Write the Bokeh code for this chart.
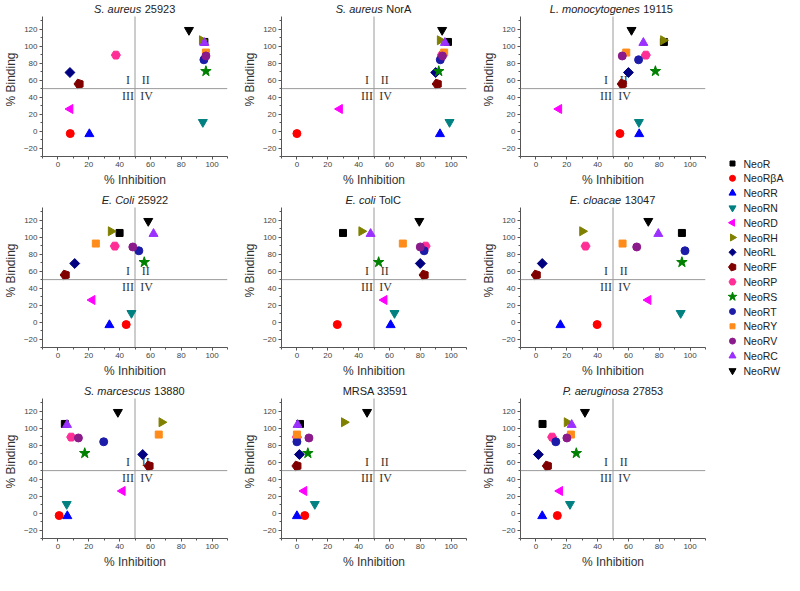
import math
from bokeh.plotting import figure
from bokeh.layouts import row, column
from bokeh.models import Range1d, Span, SingleIntervalTicker, ColumnDataSource
from bokeh.core.properties import value
from bokeh.embed import file_html
from bokeh.resources import INLINE

# ---------------- data ----------------
compounds = ["NeoR", "NeoRβA", "NeoRR", "NeoRN", "NeoRD", "NeoRH", "NeoRL", "NeoRF",
             "NeoRP", "NeoRS", "NeoRT", "NeoRY", "NeoRV", "NeoRC", "NeoRW"]
binding = [105, -3, -3.5, 10.5, 26, 107, 69, 55.5, 89.5, 70.5, 84, 92.5, 88.5, 104, 119]

inh_sa25923 = [95, 8, 20.4, 94, 8, 93.5, 7.8, 13.7, 37.6, 96, 94.7, 96, 96, 95, 85]
inh_sanora = [98, 0, 92.8, 99, 27.8, 92.8, 90, 91, 94, 92, 93, 95.5, 94.4, 96, 94.2]
inh_lm19115 = [83, 54.5, 67, 66.8, 15, 82.6, 60, 56, 71.3, 77.5, 66.6, 58.6, 56, 69.7, 62]
inh_ec25922 = [40, 44.3, 33.4, 47.7, 22.3, 34.4, 10.9, 4.7, 36.9, 56, 52.5, 24.6, 48.6, 62, 58.6]
inh_ectolc = [29.9, 26.2, 60.8, 63.3, 56.7, 41.9, 80, 82.5, 83.5, 53, 82.5, 68.7, 80, 47.8, 79.4]
inh_ecl13047 = [94.7, 39.7, 15.9, 93.9, 72.9, 30.1, 4.1, 0.2, 32.2, 94.7, 96.7, 56.2, 65.4, 79.4, 72.9]
inh_sm13880 = [4.5, 0.8, 6.1, 5.7, 41.9, 67.3, 55, 59.1, 8.6, 17.4, 29.7, 65.4, 13.3, 5.9, 38.9]
inh_mrsa33591 = [2, 5.1, 0, 11.6, 4.7, 30.6, 1.6, 0, 0, 7.1, 0, 0, 7.8, 0.4, 45.5]
inh_pa27853 = [4.3, 13.9, 4.1, 22.1, 15.6, 20.1, 1.6, 7.4, 10.5, 26.2, 12.9, 22.7, 20.1, 23.2, 31.8]

title_italic = ["S. aureus", "S. aureus", "L. monocytogenes",
                "E. Coli", "E. coli", "E. cloacae",
                "S. marcescus", "", "P. aeruginosa"]
title_plain = ["25923", "NorA", "19115", "25922", "TolC", "13047", "13880", "MRSA 33591", "27853"]
panels = [inh_sa25923, inh_sanora, inh_lm19115, inh_ec25922, inh_ectolc, inh_ecl13047,
          inh_sm13880, inh_mrsa33591, inh_pa27853]

quad_text = ["I", "II", "III", "IV"]
threshold = 50

# ---------------- styles ----------------
# (marker, colour, size, angle)
styles = [
    ("square", "#000000", 7, 0),
    ("circle", "#ff0000", 8, 0),
    ("triangle", "#0000ff", 9, 0),
    ("inverted_triangle", "#008080", 9, 0),
    ("triangle", "#ff00ff", 9, math.pi / 2),
    ("triangle", "#808000", 9, -math.pi / 2),
    ("square", "#000080", 7, math.pi / 4),
    ("pentagon", "#800000", 5, 0),
    ("hex", "#ff2d96", 9, 0),
    ("star", "#008000", 11, 0),
    ("circle", "#1c1ca8", 8, 0),
    ("square", "#ff8c1a", 7, 0),
    ("circle", "#8b1a8b", 8, 0),
    ("triangle", "#9b30ff", 9, 0),
    ("inverted_triangle", "#000000", 9, 0),
]

FONT = "Liberation Sans"
HELV = {' ': 278, '.': 278, 'A': 667, 'C': 722, 'E': 667, 'L': 556, 'M': 833, 'N': 722,
        'P': 667, 'R': 722, 'S': 667, 'T': 611, 'a': 556, 'c': 500, 'e': 556, 'g': 556,
        'i': 222, 'l': 222, 'm': 833, 'n': 556, 'o': 556, 'r': 333, 's': 500, 't': 278,
        'u': 556, 'y': 500}


def text_w(s, size):
    return sum(HELV.get(ch, 556) for ch in s) * size / 1000.0


PW, PH = 239, 191
BL, BR, BT, BB = 34, 12, 2, 35
XR = (-10, 110)
AX_Y = (-30, 135)            # visible axis extent
AXIS_PX = 140                # pixel height of the axis extent
FRAME_H = PH - BT - BB
UPP = (AX_Y[1] - AX_Y[0]) / AXIS_PX
YTOP = AX_Y[0] + FRAME_H * UPP


def draw_marker(p, src, m, c, s, a):
    if m == "pentagon":
        try:
            p.ngon(x="x", y="y", source=src, radius=s, radius_units="screen", n=5,
                   angle=math.pi / 2, fill_color=c, line_color=c)
            return
        except Exception:
            m, s = "hex", 9
    p.scatter(x="x", y="y", source=src, marker=m, size=s, angle=a,
              fill_color=c, line_color=c)


def make_panel(k):
    p = figure(width=PW, height=PH, x_range=Range1d(*XR), y_range=Range1d(AX_Y[0], YTOP),
               output_backend="svg", toolbar_location=None,
               min_border_left=BL, min_border_right=BR, min_border_top=BT,
               min_border_bottom=BB, x_axis_label="% Inhibition", y_axis_label="% Binding")
    p.outline_line_color = None
    p.grid.visible = False
    p.background_fill_color = "white"
    p.border_fill_color = "white"
    p.yaxis[0].bounds = AX_Y
    for ax in (p.xaxis[0], p.yaxis[0]):
        ax.ticker = SingleIntervalTicker(interval=20, num_minor_ticks=2)
        ax.axis_line_color = "#555555"
        ax.major_tick_line_color = "#555555"
        ax.minor_tick_line_color = "#555555"
        ax.major_tick_in = 0
        ax.major_tick_out = 3
        ax.minor_tick_in = 0
        ax.minor_tick_out = 2
        ax.major_label_text_font = FONT
        ax.major_label_text_font_size = "8px"
        ax.major_label_text_color = "#444444"
        ax.axis_label_text_font = FONT
        ax.axis_label_text_font_size = "12px"
        ax.axis_label_text_font_style = "normal"
        ax.axis_label_text_color = "#333333"
        ax.major_label_standoff = 2
        ax.axis_label_standoff = 3

    p.segment(x0=[threshold], y0=[AX_Y[0]], x1=[threshold], y1=[AX_Y[1]],
              line_color="#9a9a9a", line_width=1)
    p.add_layout(Span(location=threshold, dimension="width", line_color="#9a9a9a", line_width=1))

    p.text(x=[45.5, 57, 45.5, 57.5], y=[60, 60, 41, 41], text=quad_text,
           text_font=value("Liberation Serif"), text_font_size="12px",
           text_align="center", text_baseline="middle", text_color="#333333")

    inh = panels[k]
    for i in range(len(compounds)):
        m, c, s, a = styles[i]
        src = ColumnDataSource(dict(x=[inh[i]], y=[binding[i]]))
        draw_marker(p, src, m, c, s, a)

    # title: italic species + plain strain, centred over frame
    fs = 11
    fw = PW - BL - BR
    scale = fw / (XR[1] - XR[0])
    it, pl = title_italic[k], title_plain[k]
    w_it = text_w(it, fs)
    w_sp = text_w(" ", fs) * 1.2 if it else 0
    w_pl = text_w(pl, fs)
    total = w_it + w_sp + w_pl
    x0 = (XR[0] + XR[1]) / 2 - total / 2 / scale
    split = x0 + w_it / scale
    ty = YTOP - 6 * UPP
    if it:
        p.text(x=[split], y=[ty], text=[it], text_font=value(FONT), text_font_size=f"{fs}px",
               text_font_style="italic", text_align="right", text_baseline="middle",
               text_color="#222222")
    p.text(x=[split + w_sp / scale], y=[ty], text=[pl], text_font=value(FONT),
           text_font_size=f"{fs}px", text_align="left", text_baseline="middle",
           text_color="#222222")
    return p


figs = [make_panel(k) for k in range(9)]

# ---------------- legend ----------------
LW = 784 - 3 * PW
LH = 3 * PH
top_px = 163
step = 14.8
leg = figure(width=LW, height=LH, x_range=Range1d(0, LW),
             y_range=Range1d(start=(LH - top_px) / step, end=-top_px / step),
             output_backend="svg", toolbar_location=None, x_axis_type=None,
             y_axis_type=None, min_border=0)
leg.outline_line_color = None
leg.grid.visible = False
for i, name in enumerate(compounds):
    m, c, s, a = styles[i]
    src = ColumnDataSource(dict(x=[15], y=[i]))
    draw_marker(leg, src, m, c, max(s - 2, 4) if m != "pentagon" else 4, a)
leg.text(x=[26] * len(compounds), y=list(range(len(compounds))), text=compounds,
         text_font=value(FONT), text_font_size="10.5px", text_align="left",
         text_baseline="middle", text_color="#222222")

layout = row(column(row(*figs[0:3]), row(*figs[3:6]), row(*figs[6:9])), leg)

open("out.html", "w").write(file_html(layout, INLINE))
